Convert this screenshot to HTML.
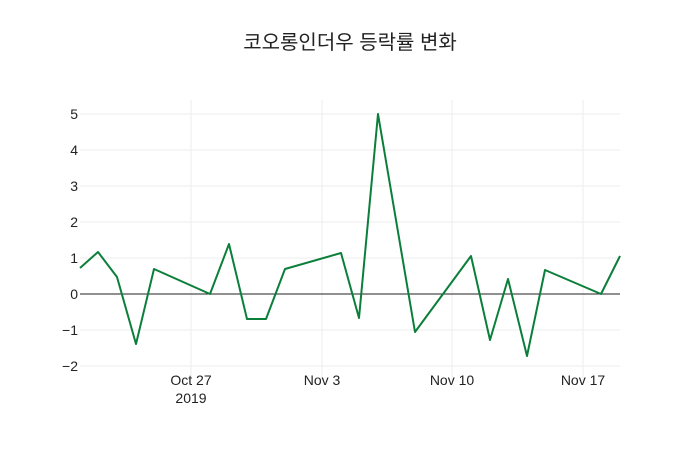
<!DOCTYPE html>
<html><head><meta charset="utf-8"><style>
body{margin:0;background:#fff}
svg text{font-family:"Liberation Sans","Noto Sans CJK KR",sans-serif;fill:#222}
</style></head><body>
<svg width="700" height="450" xmlns="http://www.w3.org/2000/svg">
<rect width="700" height="450" fill="#fff"/>
<g stroke="#eee" stroke-width="1">
<line x1="191" y1="100" x2="191" y2="380"/>
<line x1="322" y1="100" x2="322" y2="380"/>
<line x1="452" y1="100" x2="452" y2="380"/>
<line x1="583" y1="100" x2="583" y2="380"/>
<line x1="80" y1="114" x2="620" y2="114"/>
<line x1="80" y1="150" x2="620" y2="150"/>
<line x1="80" y1="186" x2="620" y2="186"/>
<line x1="80" y1="222" x2="620" y2="222"/>
<line x1="80" y1="258" x2="620" y2="258"/>
<line x1="80" y1="330" x2="620" y2="330"/>
<line x1="80" y1="366" x2="620" y2="366"/>
</g>
<line x1="80" y1="294" x2="620" y2="294" stroke="#222" stroke-width="1"/>
<polyline fill="none" stroke="#0b7f3a" stroke-width="2" stroke-linejoin="round" points="80,268 98,252 117,277 136,344 154,269 210,294 229,244 247,319 266,319 285,269 341,253 359,318 378,114 415,332 471,256 490,340 508,279 527,356 545,270 601,294 620,256"/>
<g font-size="14" text-anchor="end">
<text x="78" y="119">5</text>
<text x="78" y="155">4</text>
<text x="78" y="191">3</text>
<text x="78" y="227">2</text>
<text x="78" y="263">1</text>
<text x="78" y="299">0</text>
<text x="78" y="335">−1</text>
<text x="78" y="371">−2</text>
</g>
<g font-size="14" text-anchor="middle">
<text x="191" y="385">Oct 27</text>
<text x="191" y="403">2019</text>
<text x="322" y="385">Nov 3</text>
<text x="452" y="385">Nov 10</text>
<text x="583" y="385">Nov 17</text>
</g>
<text x="350" y="49" font-size="20" text-anchor="middle">코오롱인더우 등락률 변화</text>
</svg>
</body></html>
